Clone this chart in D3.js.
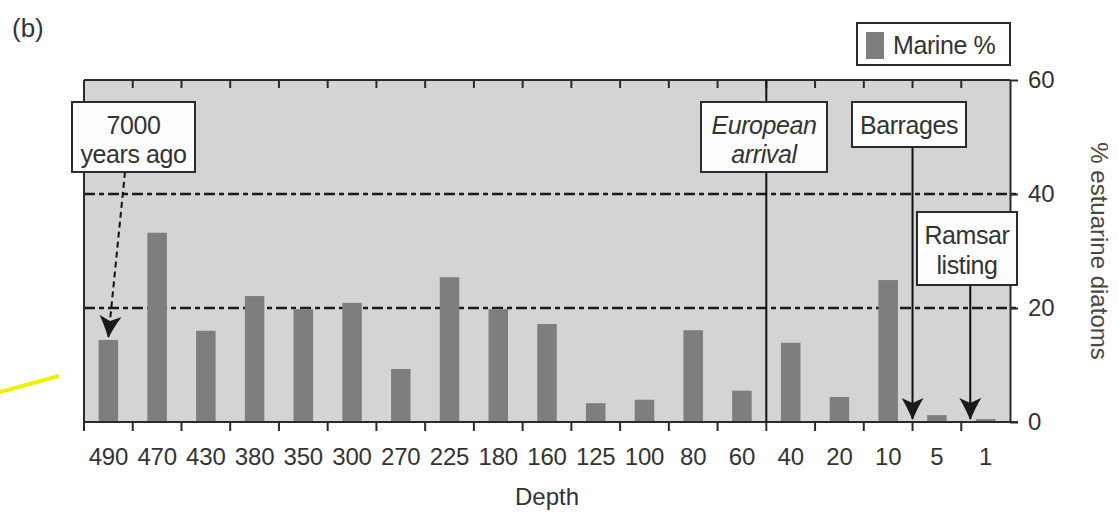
<!DOCTYPE html>
<html>
<head>
<meta charset="utf-8">
<script src="https://cdn.jsdelivr.net/npm/d3@7"></script>
<style>
  body { margin: 0; background: #fff; }
  svg text { font-family: "Liberation Sans", Arial, sans-serif; fill: #333; }
</style>
</head>
<body>
<div id="chart"></div>
<script>
// data
var depths = ["490", "470", "430", "380", "350", "300", "270", "225", "180", "160",
              "125", "100", "80", "60", "40", "20", "10", "5", "1"]
var marine = [14.4, 33.2, 16.0, 22.1, 19.8, 20.9, 9.3, 25.4, 19.8, 17.2,
              3.3, 3.9, 16.1, 5.5, 13.9, 4.4, 24.9, 1.2, 0.5]
var yTicks = [0, 20, 40, 60]
var gridValues = [20, 40]

var W = 1118, H = 517
var pLeft = 84, pRight = 1010, pTop = 80, pBottom = 422

var svg = d3.select("#chart").append("svg")
  .attr("width", W).attr("height", H)

var x = d3.scaleBand()
  .domain(depths)
  .range([pLeft, pRight])
  .paddingInner(0.6)
  .paddingOuter(0.3)

var y = d3.scaleLinear().domain([0, 60]).range([pBottom, pTop])

// band boundary position (ticks sit between bars)
function edge(i) { return pLeft + i * x.step() }

var barColor = "#7e7e80"
var ink = "#2a2a2a"

// arrow marker
var defs = svg.append("defs")
defs.append("marker")
  .attr("id", "head")
  .attr("markerUnits", "userSpaceOnUse")
  .attr("viewBox", "0 0 22 22")
  .attr("refX", 21).attr("refY", 11)
  .attr("markerWidth", 22).attr("markerHeight", 22)
  .attr("orient", "auto")
  .append("path")
  .attr("d", "M0,0 Q8,5 22,11 Q8,17 0,22 L5,11 Z")
  .attr("fill", "#1a1a1a")

// plot background
svg.append("rect")
  .attr("x", pLeft).attr("y", pTop)
  .attr("width", pRight - pLeft).attr("height", pBottom - pTop)
  .attr("fill", "#d4d4d6")

// dash-dot reference lines
svg.selectAll("line.grid")
  .data(gridValues)
  .enter().append("line")
  .attr("class", "grid")
  .attr("x1", pLeft).attr("x2", pRight + 8)
  .attr("y1", d => y(d)).attr("y2", d => y(d))
  .attr("stroke", "#1a1a1a")
  .attr("stroke-width", 2.5)
  .attr("stroke-dasharray", "11,4,5,4")

// bars
svg.selectAll("rect.bar")
  .data(depths)
  .enter().append("rect")
  .attr("class", "bar")
  .attr("x", d => x(d))
  .attr("y", (d, i) => y(marine[i]))
  .attr("width", x.bandwidth())
  .attr("height", (d, i) => pBottom - y(marine[i]))
  .attr("fill", barColor)

// frame: top, left
svg.append("line").attr("x1", pLeft).attr("x2", pRight).attr("y1", pTop).attr("y2", pTop)
  .attr("stroke", ink).attr("stroke-width", 2)
svg.append("line").attr("x1", pLeft).attr("x2", pLeft).attr("y1", pTop).attr("y2", pBottom)
  .attr("stroke", ink).attr("stroke-width", 2)

// top ticks (inside) and bottom ticks (outside) at band edges
var edges = d3.range(1, depths.length)
svg.selectAll("line.ttick").data(edges).enter().append("line")
  .attr("x1", edge).attr("x2", edge)
  .attr("y1", pTop).attr("y2", pTop + 8)
  .attr("stroke", ink).attr("stroke-width", 2)
svg.selectAll("line.btick").data(d3.range(0, depths.length)).enter().append("line")
  .attr("x1", edge).attr("x2", edge)
  .attr("y1", pBottom).attr("y2", pBottom + 9)
  .attr("stroke", ink).attr("stroke-width", 2)

// bottom axis line
svg.append("line").attr("x1", pLeft).attr("x2", pRight + 8).attr("y1", pBottom).attr("y2", pBottom)
  .attr("stroke", ink).attr("stroke-width", 2)

// category labels
svg.selectAll("text.xlab").data(depths).enter().append("text")
  .attr("x", d => x(d) + x.bandwidth() / 2)
  .attr("y", 465)
  .attr("text-anchor", "middle")
  .attr("font-size", 24)
  .attr("letter-spacing", -0.2)
  .text(d => d)

svg.append("text")
  .attr("x", (pLeft + pRight) / 2)
  .attr("y", 505)
  .attr("text-anchor", "middle")
  .attr("font-size", 24)
  .text("Depth")

// right axis
var yAxis = svg.append("g")
  .attr("transform", "translate(" + pRight + ",0)")
  .call(d3.axisRight(y).tickValues(yTicks).tickSize(8).tickSizeOuter(0).tickPadding(10))
yAxis.selectAll("path").attr("stroke", ink).attr("stroke-width", 2)
yAxis.selectAll("line").attr("stroke", ink).attr("stroke-width", 2)
yAxis.selectAll("text")
  .attr("font-size", 24)
  .attr("font-family", "Liberation Sans, Arial, sans-serif")
  .attr("fill", "#333")

svg.append("text")
  .attr("transform", "translate(1091,251) rotate(90)")
  .attr("text-anchor", "middle")
  .attr("font-size", 24)
  .style("fill", "#4d463e")
  .text("% estuarine diatoms")

// European arrival line
svg.append("line")
  .attr("x1", edge(14)).attr("x2", edge(14))
  .attr("y1", pTop).attr("y2", pBottom)
  .attr("stroke", "#111").attr("stroke-width", 2)

// arrows
svg.append("line")
  .attr("x1", 125).attr("y1", 172)
  .attr("x2", x("490") + x.bandwidth() / 2).attr("y2", y(marine[0]) - 3)
  .attr("stroke", "#111").attr("stroke-width", 2)
  .attr("stroke-dasharray", "6,4")
  .attr("marker-end", "url(#head)")
svg.append("line")
  .attr("x1", edge(17)).attr("x2", edge(17))
  .attr("y1", 147).attr("y2", pBottom - 3)
  .attr("stroke", "#111").attr("stroke-width", 2)
  .attr("marker-end", "url(#head)")
svg.append("line")
  .attr("x1", edge(18) + 9).attr("x2", edge(18) + 9)
  .attr("y1", 285).attr("y2", pBottom - 3)
  .attr("stroke", "#111").attr("stroke-width", 2)
  .attr("marker-end", "url(#head)")

// annotation boxes
function box(x0, y0, w, h, lines, italic, lineY) {
  svg.append("rect")
    .attr("x", x0).attr("y", y0).attr("width", w).attr("height", h)
    .attr("fill", "#fdfdfd").attr("stroke", ink).attr("stroke-width", 2)
  lines.forEach(function (t, i) {
    svg.append("text")
      .attr("x", x0 + w / 2)
      .attr("y", lineY[i])
      .attr("text-anchor", "middle")
      .attr("font-size", 25)
      .attr("letter-spacing", -0.4)
      .attr("font-style", italic ? "italic" : "normal")
      .text(t)
  })
}
box(72, 102, 123, 70, ["7000", "years ago"], false, [134, 163])
box(701, 102, 126, 70, ["European", "arrival"], true, [134, 163])
box(852, 102, 114, 45, ["Barrages"], false, [134])
box(917, 212, 100, 73, ["Ramsar", "listing"], false, [244, 274])

// legend
svg.append("rect")
  .attr("x", 857).attr("y", 23).attr("width", 153).attr("height", 42)
  .attr("fill", "#fff").attr("stroke", ink).attr("stroke-width", 2)
svg.append("rect")
  .attr("x", 866).attr("y", 32).attr("width", 18).attr("height", 27)
  .attr("fill", barColor)
svg.append("text")
  .attr("x", 893).attr("y", 54)
  .attr("font-size", 25)
  .attr("letter-spacing", -0.4)
  .text("Marine %")

// panel label
svg.append("text")
  .attr("x", 12).attr("y", 37)
  .attr("font-size", 26)
  .text("(b)")

// yellow pen stroke on the source image
svg.append("line")
  .attr("x1", 0).attr("y1", 392)
  .attr("x2", 59).attr("y2", 376)
  .attr("stroke", "#f4ef00").attr("stroke-width", 4)
</script>
</body>
</html>
